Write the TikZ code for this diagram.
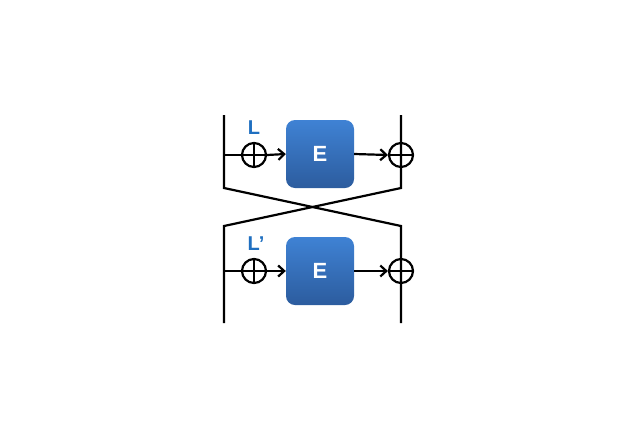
\documentclass[tikz,border=0pt]{standalone}
\usepackage{fontspec}
\setmainfont{Liberation Sans}
\usetikzlibrary{arrows.meta}
\definecolor{etop}{HTML}{3F82D4}
\definecolor{ebot}{HTML}{2C5C9E}
\definecolor{lblue}{HTML}{1F6FC0}
\tikzset{
 wire/.style={line width=2.2pt,black},
 xorc/.style={circle,draw,line width=2.2pt,minimum size=24pt,inner sep=0pt},
 ebox/.style={rounded corners=9pt,minimum width=68pt,minimum height=68pt,top color=etop,bottom color=ebot,draw=none,text=white,font=\bfseries\fontsize{22}{22}\selectfont},
 lab/.style={text=lblue,font=\bfseries\fontsize{20}{20}\selectfont},
 arr/.style={wire,-{Straight Barb[length=6pt,width=11pt,line width=2.2pt]}}
}
\begin{document}
\begin{tikzpicture}[x=1pt,y=-1pt]
\useasboundingbox (0,0) rectangle (640,426);
\coordinate (lt) at (224,115); \coordinate (lm) at (224,188);
\coordinate (rt) at (401,115); \coordinate (rm) at (401,188);
\coordinate (lb) at (224,226); \coordinate (le) at (224,323);
\coordinate (rb) at (401,226); \coordinate (re) at (401,323);
\coordinate (l1) at (224,155); \coordinate (l2) at (224,271);
\node[xorc] (x1) at (254,155) {};
\node[xorc] (x2) at (254,271) {};
\node[xorc] (y1) at (401,155) {};
\node[xorc] (y2) at (401,271) {};
\node[ebox] (e1) at (320,154) {E};
\node[ebox] (e2) at (320,271) {E};
\node[lab] (L1) at (254,128) {L};
\node[lab] (L2) at (256,244) {L’};
\draw[wire] (lt) -- (lm) -- (rb) -- (re);
\draw[wire] (rt) -- (rm) -- (lb) -- (le);
\foreach \x in {x1,x2,y1,y2}{
 \draw[wire] (\x.north) -- (\x.south); \draw[wire] (\x.west) -- (\x.east);}
\draw[wire] (l1) -- (x1.west);
\draw[wire] (l2) -- (x2.west);
\draw[arr] (x1.east) -- (e1.west);
\draw[arr] (x2.east) -- (e2.west);
\draw[arr] (e1.east) -- (y1.west);
\draw[arr] (e2.east) -- (y2.west);
\end{tikzpicture}
\end{document}
